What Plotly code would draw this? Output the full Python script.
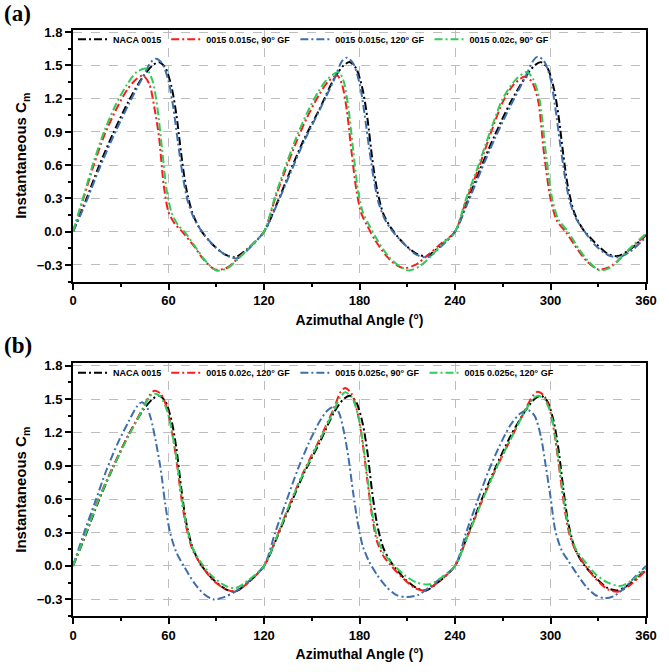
import plotly.graph_objects as go

# ---------------- data ----------------
# Panel (a)
naca_x = [0, 8, 16, 25, 35, 44, 50, 54, 58, 62, 65, 68, 71, 75, 80, 88, 96, 102, 110, 120,
          128, 136, 145, 155, 164, 170, 174, 178, 182, 185, 188, 191, 195, 200, 208, 216, 222, 230, 240,
          248, 256, 265, 275, 284, 290, 294, 298, 302, 305, 308, 311, 315, 320, 328, 336, 342, 350, 360]
naca_y = [0, 0.28, 0.58, 0.88, 1.18, 1.40, 1.50, 1.53, 1.48, 1.30, 1.05, 0.70, 0.40, 0.17, 0.02, -0.12, -0.21, -0.23, -0.15, 0.0,
          0.25, 0.53, 0.83, 1.11, 1.38, 1.50, 1.53, 1.47, 1.28, 1.02, 0.66, 0.38, 0.16, 0.03, -0.11, -0.20, -0.22, -0.14, 0.0,
          0.28, 0.57, 0.87, 1.17, 1.39, 1.50, 1.53, 1.48, 1.30, 1.05, 0.70, 0.40, 0.17, 0.03, -0.10, -0.20, -0.22, -0.16, -0.03]

a_red_x = [0, 7, 13, 20, 27, 34, 40, 44, 48, 51, 54, 57, 60, 64, 68, 76, 82, 89, 96, 103, 111, 120,
           127, 133, 140, 147, 154, 160, 166, 169, 172, 175, 178, 181, 185, 190, 197, 203, 208, 215, 223, 231, 240,
           247, 255, 262, 270, 277, 284, 288, 292, 296, 300, 304, 310, 317, 323, 330, 337, 344, 352, 360]
a_red_y = [0, 0.32, 0.60, 0.88, 1.10, 1.28, 1.38, 1.41, 1.33, 1.13, 0.86, 0.42, 0.18, 0.07, 0.01, -0.13, -0.25, -0.34, -0.33, -0.25, -0.14, 0.0,
           0.30, 0.54, 0.80, 1.03, 1.22, 1.35, 1.41, 1.33, 1.10, 0.72, 0.38, 0.17, 0.05, -0.08, -0.22, -0.30, -0.33, -0.30, -0.21, -0.11, 0.0,
           0.28, 0.58, 0.87, 1.17, 1.33, 1.40, 1.36, 1.20, 0.70, 0.30, 0.10, -0.01, -0.16, -0.27, -0.34, -0.32, -0.24, -0.13, -0.03]

a_blue_x = [0, 8, 16, 25, 35, 44, 49, 52, 56, 60, 63, 66, 69, 72, 76, 81, 88, 96, 103, 110, 120,
            128, 136, 145, 155, 164, 169, 172, 176, 180, 183, 186, 189, 192, 196, 201, 208, 216, 223, 230, 240,
            248, 256, 265, 275, 284, 289, 292, 296, 300, 303, 306, 309, 312, 316, 321, 328, 336, 343, 350, 360]
a_blue_y = [0, 0.26, 0.55, 0.85, 1.15, 1.40, 1.53, 1.56, 1.52, 1.36, 1.12, 0.80, 0.50, 0.28, 0.12, 0.0, -0.12, -0.21, -0.24, -0.16, 0.0,
            0.24, 0.51, 0.81, 1.10, 1.37, 1.54, 1.57, 1.52, 1.34, 1.08, 0.76, 0.47, 0.26, 0.11, 0.0, -0.11, -0.21, -0.23, -0.15, 0.0,
            0.26, 0.54, 0.84, 1.14, 1.39, 1.54, 1.58, 1.54, 1.38, 1.12, 0.80, 0.50, 0.28, 0.12, 0.01, -0.12, -0.21, -0.23, -0.18, -0.05]

a_green_x = [0, 7, 13, 20, 27, 34, 40, 46, 50, 53, 56, 59, 62, 66, 70, 77, 83, 90, 97, 104, 111, 120,
             127, 133, 140, 147, 154, 160, 167, 170, 173, 176, 179, 182, 186, 191, 198, 205, 211, 218, 225, 232, 240,
             247, 255, 262, 270, 278, 285, 289, 293, 297, 301, 305, 311, 318, 324, 331, 338, 345, 352, 360]
a_green_y = [0, 0.34, 0.63, 0.92, 1.15, 1.33, 1.44, 1.47, 1.36, 1.12, 0.74, 0.36, 0.17, 0.06, 0.0, -0.14, -0.26, -0.35, -0.33, -0.24, -0.14, 0.0,
             0.32, 0.57, 0.84, 1.07, 1.26, 1.38, 1.44, 1.36, 1.12, 0.74, 0.38, 0.18, 0.06, -0.07, -0.22, -0.31, -0.35, -0.31, -0.22, -0.11, 0.0,
             0.30, 0.61, 0.90, 1.20, 1.37, 1.44, 1.38, 1.20, 0.72, 0.30, 0.11, 0.0, -0.16, -0.27, -0.35, -0.32, -0.22, -0.12, -0.02]

# Panel (b)
b_red_x = [0, 8, 16, 25, 35, 44, 48, 51, 55, 59, 62, 65, 68, 71, 75, 80, 88, 96, 102, 110, 120,
           128, 136, 145, 155, 164, 168, 171, 175, 179, 182, 185, 188, 191, 195, 200, 208, 215, 221, 229, 240,
           248, 256, 265, 275, 284, 289, 292, 296, 300, 303, 306, 309, 312, 316, 321, 328, 336, 343, 351, 360]
b_red_y = [0, 0.30, 0.60, 0.89, 1.18, 1.42, 1.53, 1.575, 1.55, 1.42, 1.22, 0.95, 0.62, 0.36, 0.15, 0.02, -0.13, -0.21, -0.23, -0.15, 0.0,
           0.26, 0.55, 0.85, 1.14, 1.42, 1.56, 1.60, 1.55, 1.36, 1.10, 0.76, 0.44, 0.22, 0.09, 0.0, -0.12, -0.20, -0.22, -0.15, 0.0,
           0.27, 0.55, 0.85, 1.14, 1.40, 1.53, 1.565, 1.53, 1.38, 1.14, 0.82, 0.50, 0.28, 0.13, 0.02, -0.11, -0.21, -0.23, -0.16, -0.04]

b_blue_x = [0, 7, 14, 21, 28, 35, 40, 43, 46, 49, 52, 55, 58, 61, 65, 70, 76, 82, 88, 95, 102, 110, 120,
            127, 134, 141, 148, 155, 160, 164, 167, 170, 173, 176, 179, 182, 186, 191, 197, 203, 210, 217, 224, 231, 240,
            247, 254, 261, 268, 275, 281, 286, 290, 294, 297, 300, 303, 307, 311, 316, 322, 328, 334, 340, 347, 353, 360]
b_blue_y = [0, 0.30, 0.58, 0.86, 1.10, 1.30, 1.43, 1.47, 1.44, 1.32, 1.12, 0.88, 0.55, 0.30, 0.12, -0.01, -0.15, -0.25, -0.30, -0.28, -0.23, -0.14, 0.0,
            0.30, 0.58, 0.86, 1.10, 1.30, 1.40, 1.43, 1.38, 1.22, 0.98, 0.66, 0.38, 0.18, 0.04, -0.08, -0.19, -0.26, -0.28, -0.26, -0.19, -0.11, 0.0,
            0.30, 0.58, 0.85, 1.08, 1.27, 1.37, 1.40, 1.35, 1.16, 0.90, 0.62, 0.32, 0.14, 0.05, -0.06, -0.18, -0.26, -0.29, -0.27, -0.19, -0.10, 0.0]

b_green_x = [0, 8, 16, 25, 35, 44, 48, 51, 55, 59, 62, 65, 68, 71, 75, 80, 88, 96, 102, 110, 120,
             128, 136, 145, 155, 164, 168, 171, 175, 179, 182, 185, 188, 191, 195, 200, 208, 216, 224, 231, 240,
             248, 256, 265, 275, 284, 289, 292, 296, 300, 303, 306, 309, 312, 316, 321, 328, 336, 344, 352, 360]
b_green_y = [0, 0.29, 0.59, 0.88, 1.17, 1.41, 1.52, 1.55, 1.52, 1.40, 1.22, 0.97, 0.65, 0.38, 0.17, 0.04, -0.10, -0.18, -0.20, -0.13, 0.0,
             0.26, 0.55, 0.84, 1.13, 1.40, 1.52, 1.56, 1.52, 1.36, 1.12, 0.80, 0.48, 0.26, 0.12, 0.03, -0.08, -0.15, -0.165, -0.11, 0.0,
             0.27, 0.55, 0.85, 1.14, 1.39, 1.50, 1.53, 1.50, 1.38, 1.16, 0.85, 0.54, 0.31, 0.15, 0.05, -0.07, -0.15, -0.18, -0.12, -0.02]

names_a = ["NACA 0015", "0015 0.015c, 90° GF", "0015 0.015c, 120° GF", "0015 0.02c, 90° GF"]
names_b = ["NACA 0015", "0015 0.02c, 120° GF", "0015 0.025c, 90° GF", "0015 0.025c, 120° GF"]
colors = ["#000000", "#ff1a1a", "#3d6fae", "#2ecc5a"]

x_ticks = [0, 60, 120, 180, 240, 300, 360]
y_ticks = [-0.3, 0.0, 0.3, 0.6, 0.9, 1.2, 1.5, 1.8]
y_labels = ["−0.3", "0.0", "0.3", "0.6", "0.9", "1.2", "1.5", "1.8"]

# ---------------- figure ----------------
FONT = "Liberation Sans, Arial, sans-serif"
DASH = "8px,3px,2px,3px"
fig = go.Figure()

series_a = [(naca_x, naca_y), (a_red_x, a_red_y), (a_blue_x, a_blue_y), (a_green_x, a_green_y)]
series_b = [(naca_x, naca_y), (b_red_x, b_red_y), (b_blue_x, b_blue_y), (b_green_x, b_green_y)]

for (xs, ys), nm, c in zip(series_a, names_a, colors):
    fig.add_trace(go.Scatter(x=xs, y=ys, name=nm, mode="lines", xaxis="x", yaxis="y",
                             line=dict(color=c, width=2, dash=DASH, shape="spline", smoothing=0.8),
                             legend="legend"))
for (xs, ys), nm, c in zip(series_b, names_b, colors):
    fig.add_trace(go.Scatter(x=xs, y=ys, name=nm, mode="lines", xaxis="x2", yaxis="y2",
                             line=dict(color=c, width=2, dash=DASH, shape="spline", smoothing=0.8),
                             legend="legend2"))

dom_a = [0.5707, 1.0]
dom_b = [0.0, 0.431]

def xaxis_style(anchor):
    return dict(anchor=anchor, range=[0, 360], tickvals=x_ticks, ticktext=[str(v) for v in x_ticks],
                showline=True, linecolor="black", linewidth=2, mirror=True,
                ticks="outside", ticklen=6, tickwidth=2, tickcolor="black",
                minor=dict(ticks="outside", ticklen=3, tickwidth=1.5, dtick=30, tick0=0, tickcolor="black", showgrid=False),
                showgrid=True, gridcolor="#bdbdbd", gridwidth=1, griddash="dash", zeroline=False,
                tickfont=dict(family=FONT, size=13, color="black", weight="bold"),
                title=dict(text="Azimuthal Angle (°)", font=dict(family=FONT, size=14, color="black", weight="bold"),
                           standoff=8))

def yaxis_style(anchor, dom):
    return dict(anchor=anchor, domain=dom, range=[-0.45, 1.82], tickvals=y_ticks, ticktext=y_labels,
                showline=True, linecolor="black", linewidth=2, mirror=True,
                ticks="outside", ticklen=6, tickwidth=2, tickcolor="black",
                minor=dict(ticks="outside", ticklen=3, tickwidth=1.5, dtick=0.15, tick0=0, tickcolor="black", showgrid=False),
                showgrid=True, gridcolor="#bdbdbd", gridwidth=1, griddash="dash", zeroline=False,
                tickfont=dict(family=FONT, size=13, color="black", weight="bold"),
                title=dict(text="Instantaneous C<sub>m</sub>", font=dict(family=FONT, size=15, color="black", weight="bold"),
                           standoff=6))

leg_common = dict(orientation="h", xanchor="left", yanchor="top", bgcolor="rgba(0,0,0,0)",
                  font=dict(family=FONT, size=9, color="black", weight="bold"),
                  itemwidth=30, tracegroupgap=0, itemclick=False)

fig.update_layout(
    width=669, height=672,
    margin=dict(l=73, r=13, t=30, b=48),
    paper_bgcolor="white", plot_bgcolor="white",
    showlegend=True,
    xaxis=xaxis_style("y"),
    yaxis=yaxis_style("x", dom_a),
    xaxis2=xaxis_style("y2"),
    yaxis2=yaxis_style("x2", dom_b),
    legend=dict(x=0, y=1.009, **leg_common),
    legend2=dict(x=0, y=0.440, **leg_common),
    annotations=[
        dict(text="<b>(a)</b>", xref="paper", yref="paper", x=-0.096, y=1.028, xanchor="center", yanchor="middle",
             showarrow=False, font=dict(family="Liberation Serif, Times New Roman, serif", size=23, color="black")),
        dict(text="<b>(b)</b>", xref="paper", yref="paper", x=-0.096, y=0.462, xanchor="center", yanchor="middle",
             showarrow=False, font=dict(family="Liberation Serif, Times New Roman, serif", size=23, color="black")),
    ],
)

fig.write_html("out.html")
